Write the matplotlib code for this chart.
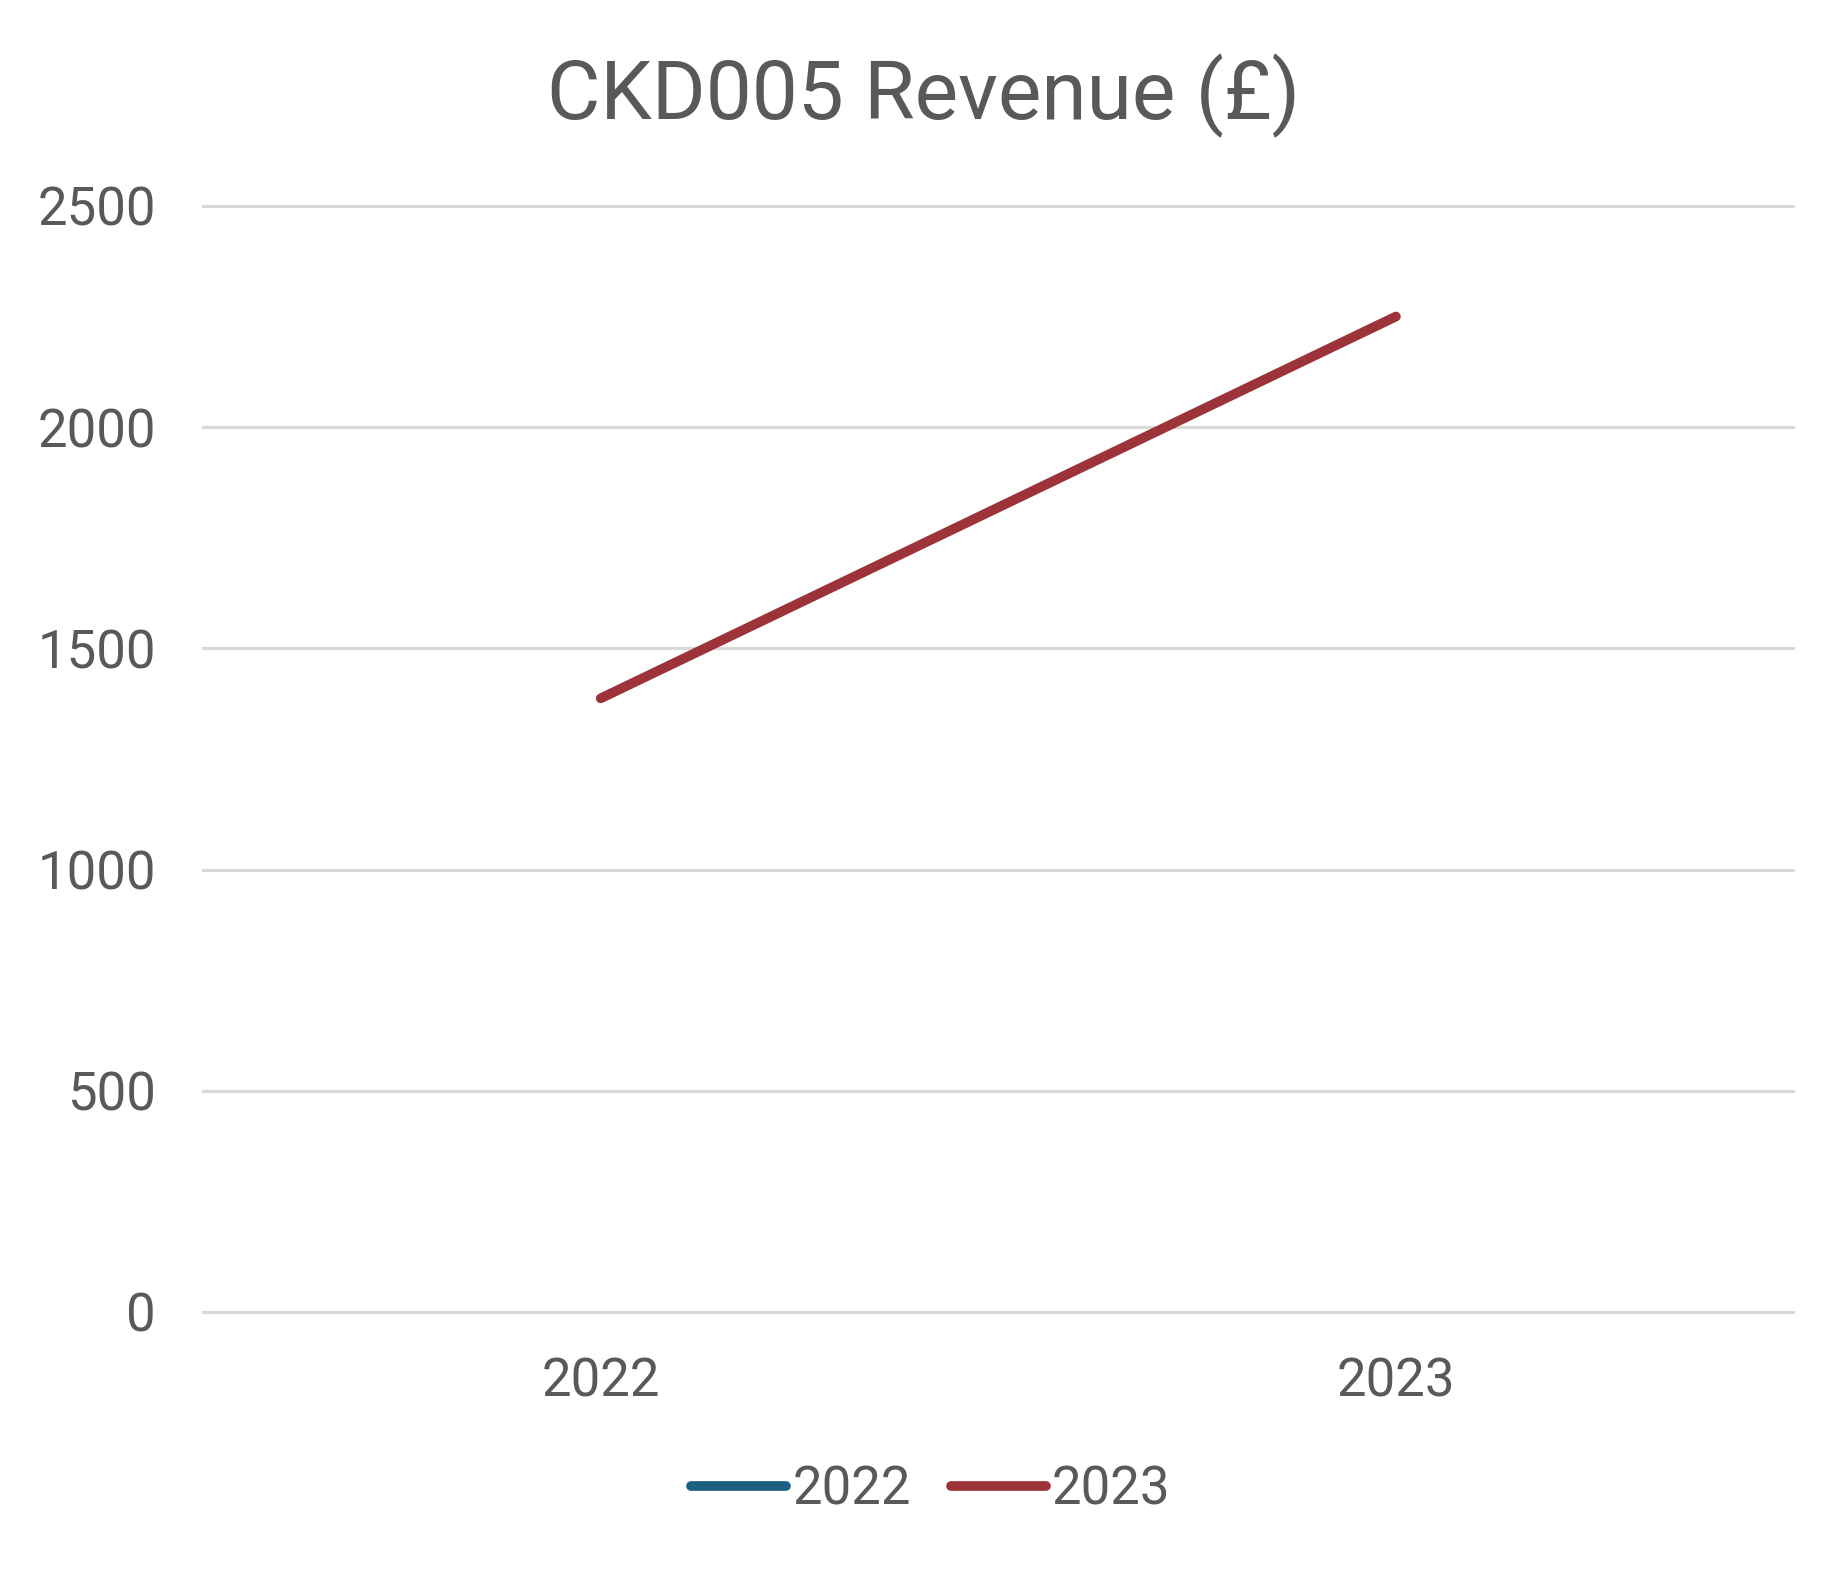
import numpy as np
import matplotlib.pyplot as plt

categories = ["2022", "2023"]
series_names = ["2022", "2023"]
rev_2022 = [np.nan, np.nan]
rev_2023 = [1387, 2250]
y_ticks = [0, 500, 1000, 1500, 2000, 2500]

text_col = "#595959"
grid_col = "#D9D9D9"
colors = ["#1B6083", "#9C3338"]

plt.rcParams["font.family"] = ["Roboto", "DejaVu Sans"]

fig = plt.figure(figsize=(9.235, 7.86), dpi=200)
ax = fig.add_axes([0.110, 0.1654, 0.861, 0.7036])

x = np.arange(len(categories))
for vals, name, c in zip([rev_2022, rev_2023], series_names, colors):
    ax.plot(x, vals, color=c, lw=3.5, solid_capstyle="round", label=name)

ax.set_xlim(-0.5, 1.5)
ax.set_ylim(0, 2500)
ax.set_xticks(x)
ax.set_xticklabels(categories)
ax.set_yticks(y_ticks)
ax.tick_params(axis="both", length=0, labelsize=19, colors=text_col)
ax.tick_params(axis="y", pad=17)
ax.tick_params(axis="x", pad=16)
ax.grid(axis="y", color=grid_col, lw=1.1)
for gl in ax.get_ygridlines():
    gl.set_clip_on(False)
ax.set_axisbelow(True)
for s in ax.spines.values():
    s.set_visible(False)

fig.text(0.5, 0.939, "CKD005 Revenue (£)", ha="center", va="center",
         fontsize=29.5, color=text_col)

leg = fig.legend(loc="center", bbox_to_anchor=(0.504, 1 - 1490 / 1572), ncol=2,
                 frameon=False, fontsize=19, handlelength=1.8, handletextpad=0.12,
                 columnspacing=0.75)
for t in leg.get_texts():
    t.set_color(text_col)

fig.savefig("out.png", dpi=200)
